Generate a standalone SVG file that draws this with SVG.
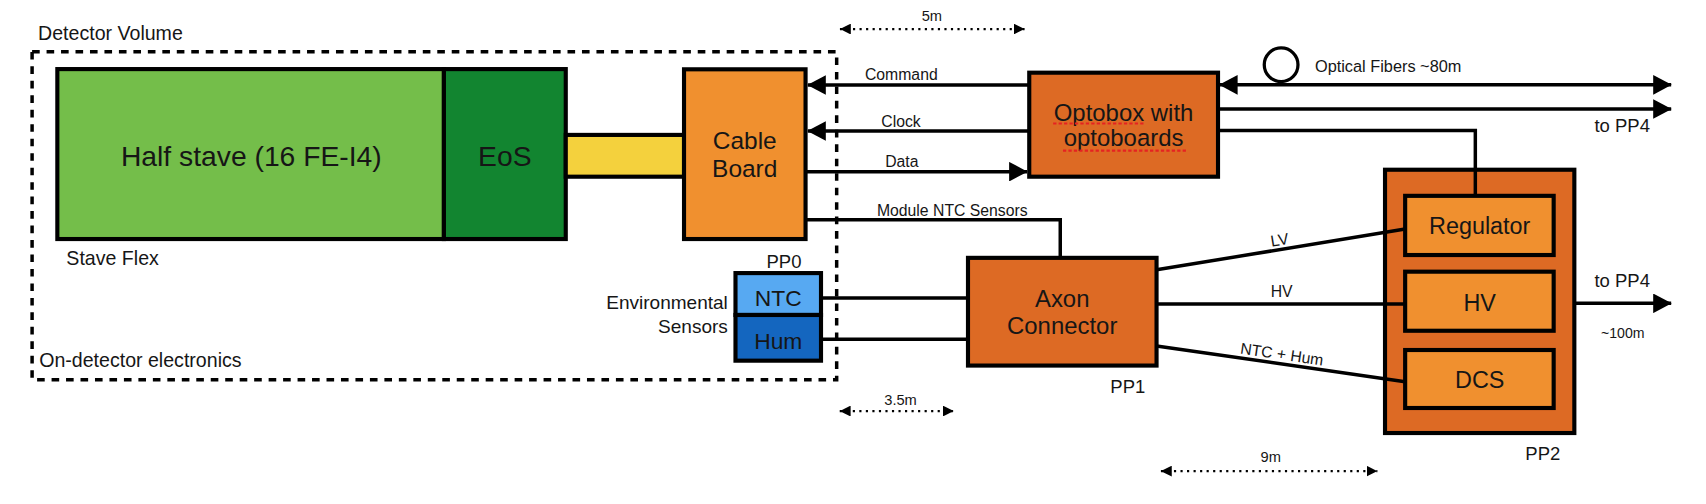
<svg xmlns="http://www.w3.org/2000/svg" width="1706" height="504" viewBox="0 0 1706 504">
<style>
text{font-family:"Liberation Sans","Helvetica Neue",Arial,sans-serif;fill:#161616}
.box{stroke:#000;stroke-width:3.8}
.big{font-size:22px;text-anchor:middle}
.lbl{font-size:17.5px}
.pp{font-size:17px}
.sm{font-size:14.5px}
.dm{font-size:13.5px;text-anchor:middle}
.ln{stroke:#000;stroke-width:3.2;fill:none}
.dim{stroke:#000;stroke-width:2;stroke-dasharray:2 4;fill:none}
.sq{stroke:#E52222;stroke-width:2;stroke-dasharray:3 2;fill:none}
</style>
<defs>
<marker id="arr" markerUnits="userSpaceOnUse" markerWidth="17" markerHeight="18" refX="16.5" refY="9" orient="auto-start-reverse" viewBox="0 0 17 18"><path d="M0,0 L17,9 L0,18 z" fill="#000"/></marker>
<marker id="darr" markerUnits="userSpaceOnUse" markerWidth="10" markerHeight="10" refX="10" refY="5" orient="auto-start-reverse" viewBox="0 0 10 10"><path d="M0,0 L10,5 L0,10 z" fill="#000"/></marker>
</defs>
<rect width="1706" height="504" fill="#fff"/>
<g transform="scale(1.088)">
<g id="detector-volume">
<rect x="29.5" y="47.5" width="739.5" height="301.5" fill="none" stroke="#000" stroke-width="3.2" stroke-dasharray="7 6.3"/>
<text class="lbl" x="35" y="37" style="font-size:18px">Detector Volume</text>
<text class="lbl" x="36" y="337" style="font-size:18px">On-detector electronics</text>
<text class="lbl" x="61" y="243.5" style="font-size:18px">Stave Flex</text>
</g>
<g id="half-stave">
<rect class="box" x="52.7" y="63.5" width="355.3" height="156.2" fill="#74BE4A"/>
<text class="big" x="231" y="153" style="font-size:26px">Half stave (16 FE-I4)</text>
</g>
<g id="eos">
<rect class="box" x="408" y="63.5" width="112" height="156.2" fill="#128530"/>
<text class="big" x="464" y="153" style="font-size:26px">EoS</text>
</g>
<g id="flex-link">
<rect class="box" x="520" y="124" width="108.7" height="38.4" fill="#F4D13D"/>
</g>
<g id="cable-board">
<rect class="box" x="628.7" y="63.7" width="111.7" height="156" fill="#F0902F"/>
<text class="big" x="684.5" y="137" style="font-size:22.5px">Cable</text>
<text class="big" x="684.5" y="162.4" style="font-size:22.5px">Board</text>
</g>
<g id="optobox">
<rect class="box" x="946" y="66.8" width="173.5" height="95.6" fill="#DD6A24"/>
<text class="big" x="1032.7" y="111.2">Optobox with</text>
<text class="big" x="1032.7" y="134.2">optoboards</text>
<path class="sq" d="M968,113.5 H1053 M977,138.5 H1091"/>
</g>
<g id="env-sensors">
<text class="lbl" x="669" y="284" text-anchor="end">Environmental</text>
<text class="lbl" x="669" y="306.4" text-anchor="end">Sensors</text>
<text class="pp" x="720.6" y="246.6" text-anchor="middle">PP0</text>
</g>
<g id="ntc">
<rect class="box" x="676" y="251" width="78.6" height="38.5" fill="#57A9F2"/>
<text class="big" x="715.3" y="281" style="font-size:21px">NTC</text>
</g>
<g id="hum">
<rect class="box" x="676" y="289.5" width="78.6" height="42" fill="#1466BF"/>
<text class="big" x="715.3" y="321" style="font-size:21px">Hum</text>
</g>
<g id="axon">
<rect class="box" x="889.7" y="237" width="173.3" height="99" fill="#DD6A24"/>
<text class="big" x="976.3" y="282">Axon</text>
<text class="big" x="976.3" y="307">Connector</text>
<text class="pp" x="1036.6" y="361" text-anchor="middle">PP1</text>
</g>
<g id="pp2">
<rect class="box" x="1273" y="156" width="174" height="242" fill="#DD6A24"/>
<text class="pp" x="1418" y="422.8" text-anchor="middle">PP2</text>
</g>
<g id="regulator">
<rect class="box" x="1291.5" y="180" width="136.5" height="54.4" fill="#F0902F"/>
<text class="big" x="1360" y="215" style="font-size:21.5px">Regulator</text>
</g>
<g id="hv">
<rect class="box" x="1291.5" y="249.7" width="136.5" height="54.3" fill="#F0902F"/>
<text class="big" x="1360" y="285.6" style="font-size:21.5px">HV</text>
</g>
<g id="dcs">
<rect class="box" x="1291.5" y="321.7" width="136.5" height="53.3" fill="#F0902F"/>
<text class="big" x="1360" y="357" style="font-size:21.5px">DCS</text>
</g>
<g id="connectors">
<line class="ln" x1="946" y1="78.1" x2="742.5" y2="78.1" marker-end="url(#arr)"/>
<text class="sm" x="795" y="73.5">Command</text>
<line class="ln" x1="946" y1="120.4" x2="742.5" y2="120.4" marker-end="url(#arr)"/>
<text class="sm" x="810" y="116.4">Clock</text>
<line class="ln" x1="740.4" y1="157.8" x2="944" y2="157.8" marker-end="url(#arr)"/>
<text class="sm" x="813.6" y="153.8">Data</text>
<polyline class="ln" points="740.4,202 974.5,202 974.5,237"/>
<text class="sm" x="806" y="198.2">Module NTC Sensors</text>
<line class="ln" x1="1121" y1="78" x2="1536" y2="78" marker-start="url(#arr)" marker-end="url(#arr)"/>
<circle cx="1177.5" cy="59.5" r="15.5" fill="none" stroke="#000" stroke-width="3"/>
<text class="sm" x="1208.6" y="65.9" style="font-size:15px">Optical Fibers ~80m</text>
<line class="ln" x1="1119.5" y1="100.2" x2="1536" y2="100.2" marker-end="url(#arr)"/>
<text class="pp" x="1516.5" y="121.6" text-anchor="end">to PP4</text>
<polyline class="ln" points="1119.5,120 1356,120 1356,180"/>
<line class="ln" x1="754.6" y1="274" x2="889.7" y2="274"/>
<line class="ln" x1="754.6" y1="311.9" x2="889.7" y2="311.9"/>
<line class="ln" x1="1063" y1="248" x2="1291.5" y2="210.5"/>
<text class="sm" x="1177" y="225.5" text-anchor="middle" transform="rotate(-9.3 1177 225.5)">LV</text>
<line class="ln" x1="1063" y1="279.4" x2="1291.5" y2="279.4"/>
<text class="sm" x="1178" y="272.7" text-anchor="middle">HV</text>
<line class="ln" x1="1063" y1="318" x2="1291.5" y2="350.8"/>
<text class="sm" x="1177.6" y="330.5" text-anchor="middle" transform="rotate(8.2 1177.6 330.5)">NTC + Hum</text>
<line class="ln" x1="1447" y1="278.8" x2="1536" y2="278.8" marker-end="url(#arr)"/>
<text class="pp" x="1516.5" y="263.8" text-anchor="end">to PP4</text>
<text class="sm" x="1491.5" y="310.7" text-anchor="middle" style="font-size:13px">~100m</text>
</g>
<g id="dimensions">
<line class="dim" x1="772" y1="26.7" x2="941.7" y2="26.7" marker-start="url(#darr)" marker-end="url(#darr)"/>
<text class="dm" x="856.5" y="19">5m</text>
<line class="dim" x1="771.8" y1="377.8" x2="876.6" y2="377.8" marker-start="url(#darr)" marker-end="url(#darr)"/>
<text class="dm" x="827.7" y="372">3.5m</text>
<line class="dim" x1="1067" y1="433" x2="1266" y2="433" marker-start="url(#darr)" marker-end="url(#darr)"/>
<text class="dm" x="1168" y="425">9m</text>
</g>
</g>
</svg>
